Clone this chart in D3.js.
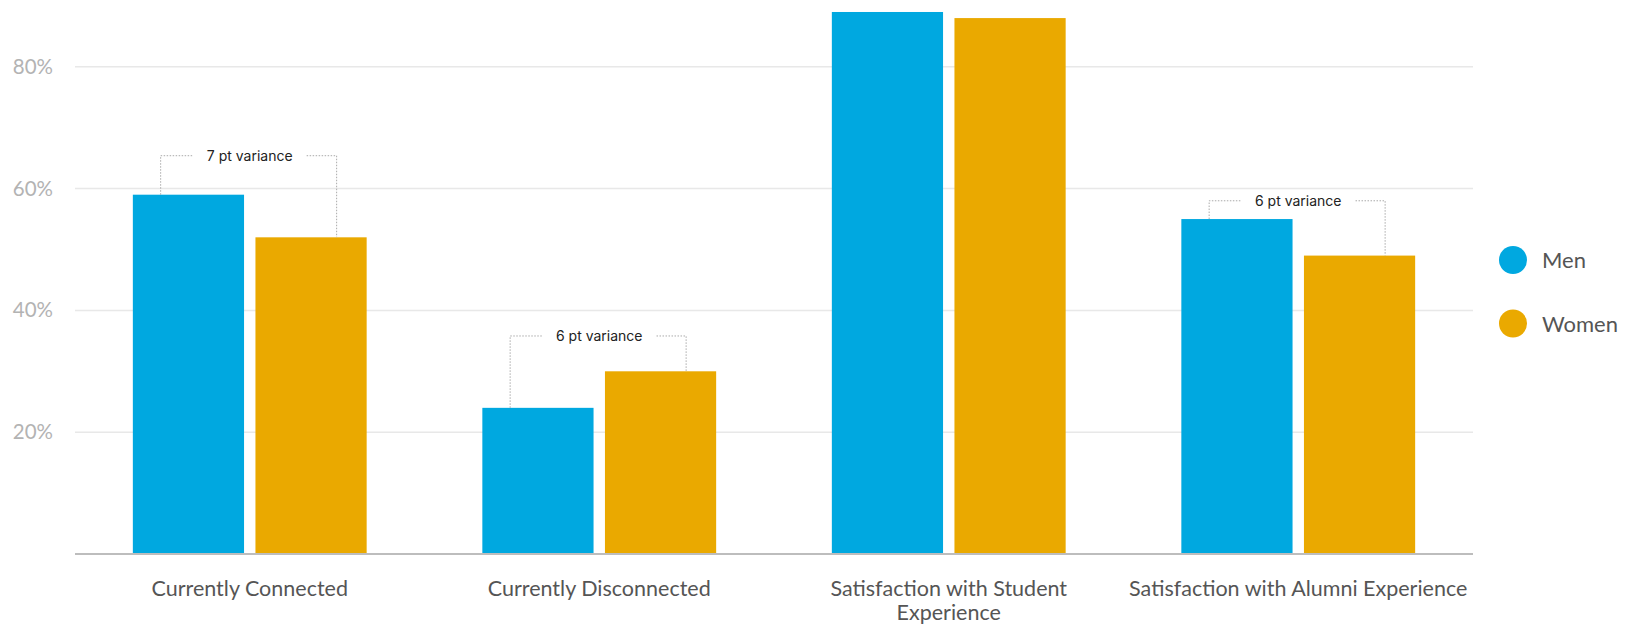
<!DOCTYPE html>
<html>
<head>
<meta charset="utf-8">
<script src="https://cdn.jsdelivr.net/npm/d3@7/dist/d3.min.js"></script>
<style>
  html, body { margin: 0; padding: 0; background: #fff; }
  svg { display: block; }
</style>
</head>
<body>
<svg id="chart" width="1627" height="626"></svg>
<script>
// Share of alumni by gender, per engagement measure
const categories = [
  ["Currently Connected"],
  ["Currently Disconnected"],
  ["Satisfaction with Student", "Experience"],
  ["Satisfaction with Alumni Experience"]
];
const seriesNames = ["Men", "Women"];
const menValues = [59, 24, 89, 55];
const womenValues = [52, 30, 88, 49];
const yTicks = [20, 40, 60, 80];

// Variance call-outs: category index, label, bracket level (%)
const varianceCategory = [0, 1, 3];
const varianceLabels = ["7 pt variance", "6 pt variance", "6 pt variance"];
const varianceLevels = [65.4, 35.8, 58.0];

const colors = ["#00a8e0", "#eaa900"];

const svg = d3.select("#chart");
const margin = { left: 75, right: 154, top: 0, bottom: 72 };
const W = 1627, H = 626;
const plotW = W - margin.left - margin.right;
const baseY = H - margin.bottom;

const x0 = d3.scaleBand()
  .domain(d3.range(categories.length))
  .range([margin.left, margin.left + plotW])
  .paddingInner(0.331)
  .paddingOuter(0.1655);

const x1 = d3.scaleBand()
  .domain(seriesNames)
  .range([0, x0.bandwidth()])
  .paddingInner(0.093);

const y = d3.scaleLinear().domain([0, 91]).range([baseY, baseY - 91 * 6.09]);

// Gridlines
svg.append("g")
  .selectAll("line")
  .data(yTicks)
  .join("line")
  .attr("x1", margin.left).attr("x2", margin.left + plotW)
  .attr("y1", d => y(d)).attr("y2", d => y(d))
  .attr("stroke", "#e8e8e8").attr("stroke-width", 1.5);

// Y axis labels
const yAxis = d3.axisLeft(y).tickValues(yTicks).tickFormat(d => d + "%").tickSize(0).tickPadding(22);
const yg = svg.append("g").attr("transform", `translate(${margin.left},0)`).call(yAxis);
yg.select(".domain").remove();
yg.selectAll("text")
  .attr("font-family", "Lato, sans-serif")
  .attr("font-size", 20.5)
  .attr("fill", "#b3b3b3");

// Bars
const rows = categories.map((c, i) => [menValues[i], womenValues[i]]);
const groups = svg.append("g")
  .selectAll("g")
  .data(rows)
  .join("g")
  .attr("transform", (d, i) => `translate(${x0(i)},0)`);

groups.selectAll("rect")
  .data(d => d.map((v, j) => ({ v, s: seriesNames[j], j })))
  .join("rect")
  .attr("x", d => x1(d.s))
  .attr("width", x1.bandwidth())
  .attr("y", d => y(d.v))
  .attr("height", d => baseY - y(d.v))
  .attr("fill", d => colors[d.j]);

// Baseline
svg.append("line")
  .attr("x1", margin.left).attr("x2", margin.left + plotW)
  .attr("y1", baseY).attr("y2", baseY)
  .attr("stroke", "#bdbdbd").attr("stroke-width", 2);

// Category labels
const xg = svg.append("g");
categories.forEach((lines, i) => {
  const t = xg.append("text")
    .attr("x", x0(i) + x0.bandwidth() / 2)
    .attr("y", baseY + 41.5)
    .attr("text-anchor", "middle")
    .attr("font-family", "Lato, sans-serif")
    .attr("font-size", 21.5)
    .attr("fill", "#555");
  lines.forEach((ln, k) => {
    t.append("tspan")
      .attr("x", x0(i) + x0.bandwidth() / 2)
      .attr("dy", k === 0 ? 0 : 24.5)
      .text(ln);
  });
});

// Variance brackets
const ann = svg.append("g");
varianceCategory.forEach((ci, k) => {
  const bw = x1.bandwidth();
  const xl = x0(ci) + x1("Men") + bw * 0.25;
  const xr = x0(ci) + x1("Women") + bw * 0.73;
  const yl = y(varianceLevels[k]);
  const cx = x0(ci) + x0.bandwidth() / 2;
  const label = ann.append("text")
    .attr("x", cx).attr("y", yl + 5)
    .attr("text-anchor", "middle")
    .attr("font-family", "Inter, sans-serif")
    .attr("font-size", 14)
    .attr("fill", "#222")
    .text(varianceLabels[k]);
  const tw = label.node().getComputedTextLength();
  const pad = 14;
  const dotted = (pts) => ann.append("path")
    .attr("d", d3.line()(pts))
    .attr("fill", "none")
    .attr("stroke", "#aaa")
    .attr("stroke-width", 1)
    .attr("stroke-dasharray", "1.5,1.5");
  dotted([[xl, y(menValues[ci])], [xl, yl], [cx - tw / 2 - pad, yl]]);
  dotted([[cx + tw / 2 + pad, yl], [xr, yl], [xr, y(womenValues[ci])]]);
});

// Legend
const legend = svg.append("g");
seriesNames.forEach((name, i) => {
  const ly = 260 + i * 63.5;
  legend.append("circle")
    .attr("cx", 1513).attr("cy", ly).attr("r", 14)
    .attr("fill", colors[i]);
  legend.append("text")
    .attr("x", 1542).attr("y", ly + 8)
    .attr("font-family", "Lato, sans-serif")
    .attr("font-size", 22)
    .attr("fill", "#555")
    .text(name);
});
</script>
</body>
</html>
